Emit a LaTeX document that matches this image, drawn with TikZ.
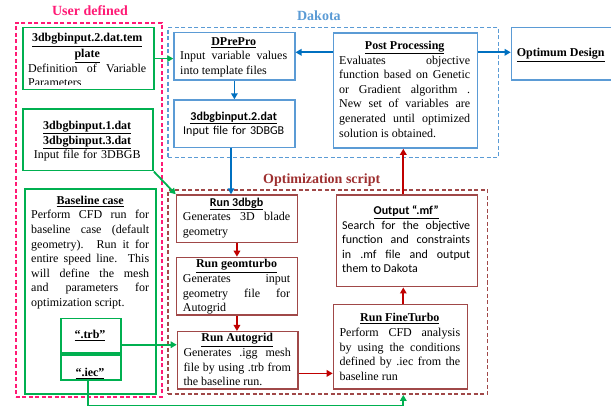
\documentclass[tikz,border=0pt]{standalone}
\usepackage{fontspec}
\setmainfont{Liberation Serif}
\newfontfamily\calfont{Carlito}
\usetikzlibrary{arrows.meta}
\definecolor{udc}{HTML}{FF1A75}
\definecolor{bluebox}{HTML}{5B9BD5}
\definecolor{bluearr}{HTML}{0070C0}
\definecolor{grn}{HTML}{00B050}
\definecolor{brn}{HTML}{A04848}
\definecolor{brnlbl}{HTML}{9E3030}
\definecolor{redarr}{HTML}{C00000}
\tolerance=9999 \hbadness=10000
\newcommand\tmfont{\fontsize{12}{14.6}\selectfont}
\newcommand\ttl[1]{\strut\hspace*{\fill}\textbf{\underline{#1}}\hspace*{\fill}\linebreak}
\begin{document}
\begin{tikzpicture}[x=1pt,y=-1pt,
  cont/.style={draw, line width=1.6pt, dash pattern=on 4pt off 2.5pt, inner sep=0pt, anchor=north west},
  bx/.style={draw, fill=white, line width=1.5pt, inner sep=0pt, anchor=north west},
  gbox/.style={bx, draw=grn},
  bbox/.style={bx, draw=bluebox},
  rbox/.style={bx, draw=brn},
  arrbase/.style={line width=1.8pt, -{Triangle[length=6pt,width=6.5pt]}},
  garr/.style={arrbase, draw=grn},
  barr/.style={arrbase, draw=bluearr},
  rarr/.style={arrbase, draw=redarr},
  txt/.style={inner sep=0pt, anchor=north west, align=justify, font=\tmfont},
  ctxt/.style={inner sep=0pt, anchor=north, align=center, font=\tmfont},
  lbl/.style={inner sep=0pt, anchor=base, font=\fontsize{14}{16}\selectfont\bfseries}
]
\useasboundingbox (0,0) rectangle (611,406);
\clip (0,0) rectangle (611,406);

% containers
\node[cont, draw=udc, minimum width=146pt, minimum height=374pt] (ud) at (15,22) {};
\node[cont, draw=bluebox, minimum width=330.4pt, minimum height=130pt] (dk) at (167.3,26.7) {};
\node[cont, draw=brn, minimum width=319.4pt, minimum height=204.3pt] (osc) at (167.3,189) {};

\node[lbl, text=udc] (lud) at (90,16) {User defined};
\node[lbl, text=bluebox] (ldk) at (318.9,21) {Dakota};
\node[lbl, text=brnlbl] (los) at (321.7,183.3) {Optimization script};

% boxes
\node[gbox, minimum width=131pt, minimum height=62.3pt] (tmpl) at (22,26.7) {};
\node[gbox, minimum width=130.3pt, minimum height=61.7pt] (dat13) at (22,108.3) {};
\node[gbox, minimum width=131pt, minimum height=205pt] (basec) at (24.3,188.3) {};
\node[gbox, minimum width=60pt, minimum height=34.6pt] (trb) at (60,317.7) {};
\node[gbox, minimum width=60pt, minimum height=25pt] (iec) at (60,354) {};
\node[bbox, minimum width=120.7pt, minimum height=47.6pt] (dpp) at (173.3,31.7) {};
\node[bbox, minimum width=120.7pt, minimum height=47.4pt] (dat2) at (173.3,99.3) {};
\node[bbox, minimum width=144pt, minimum height=115pt] (post) at (332.7,32.3) {};
\node[bbox, minimum width=110pt, minimum height=52.6pt] (opt) at (510.7,26.7) {};
\node[rbox, minimum width=121pt, minimum height=47.4pt] (run3) at (175.7,194.3) {};
\node[rbox, minimum width=121pt, minimum height=57.6pt] (geom) at (175.7,256.7) {};
\node[rbox, minimum width=120.6pt, minimum height=57.3pt] (autog) at (176.7,331) {};
\node[rbox, minimum width=141pt, minimum height=91.7pt] (out) at (335.7,194.3) {};
\node[rbox, minimum width=134pt, minimum height=84.3pt] (fine) at (332.7,304) {};

% texts
\begin{scope}
\clip (tmpl.north west) rectangle ([yshift=6pt]tmpl.south east);
\node[txt, text width=118pt] (ttmpl) at (28,31.5) {\ttl{3dbgbinput.2.dat.tem}\ttl{plate}Definition of Variable\linebreak Parameters};
\end{scope}
\node[ctxt, text width=128pt] (tdat13) at (87.2,119.1) {\strut\textbf{\underline{3dbgbinput.1.dat}}\\\textbf{\underline{3dbgbinput.3.dat}}\\Input file for 3DBGB};
\node[txt, text width=118pt] (tbase) at (31,193.8) {\ttl{Baseline case}Perform CFD run for\linebreak baseline case (default\linebreak geometry). Run it for\linebreak entire speed line. This\linebreak will define the mesh\linebreak and parameters for\linebreak optimization script.};
\node[ctxt] (ttrb) at (90,328.1) {\strut\textbf{\underline{“.trb”}}};
\node[ctxt] (tiec) at (90,365.8) {\strut\textbf{\underline{“.iec”}}};
\node[txt, text width=107pt] (tdpp) at (180,34.8) {\ttl{DPrePro}Input variable values\linebreak into template files};
\node[ctxt, text width=115pt, font=\tmfont\calfont] (tdat2) at (233.7,109.8) {\strut\textbf{\underline{3dbgbinput.2.dat}}\\Input file for 3DBGB};
\node[txt, text width=131pt] (tpost) at (339,39.1) {\ttl{Post Processing}Evaluates objective\linebreak function based on Genetic\linebreak or Gradient algorithm .\linebreak New set of variables are\linebreak generated until optimized\linebreak solution is obtained.};
\node[inner sep=0pt, anchor=base west, font=\tmfont\bfseries] (topt) at (516.7,56.7) {\underline{Optimum Design}};
\node[txt, text width=107.3pt] (trun3) at (182.7,195.8) {\strut\hspace*{\fill}{\calfont\textbf{\underline{Run 3dbgb}}}\hspace*{\fill}\linebreak Generates 3D blade\linebreak geometry};
\node[txt, text width=107.3pt] (tgeom) at (182.7,257.5) {\ttl{Run geomturbo}Generates input\linebreak geometry file for\linebreak Autogrid};
\node[txt, text width=107.4pt] (tautog) at (183.3,331.5) {\ttl{Run Autogrid}Generates .igg mesh\linebreak file by using .trb from\linebreak the baseline run.};
\node[txt, text width=128pt, font=\tmfont\calfont] (tout) at (342,204.1) {\ttl{Output “.mf”}Search for the objective\linebreak function and constraints\linebreak in .mf file and output\linebreak them to Dakota};
\node[txt, text width=120.7pt] (tfine) at (339.3,311.5) {\ttl{Run FineTurbo}Perform CFD analysis\linebreak by using the conditions\linebreak defined by .iec from the\linebreak baseline run};

% connectors
\draw[garr] (tmpl.east) -- (tmpl.east -| dpp.west);
\draw[barr] (dpp.south) -- (dat2.north);
\coordinate (pl) at ([yshift=-20pt]post.north west);
\draw[barr] (pl) -- (pl -| dpp.east);
\coordinate (pr) at ([yshift=-20pt]post.north east);
\draw[barr] (pr) -- (pr -| opt.west);
\coordinate (dx) at (231,0);
\draw[barr] (dat2.south -| dx) -- (run3.north -| dx);
\draw[garr] (dat13.south east) -- (run3.north west);
\draw[rarr] (run3.south) -- (geom.north);
\draw[rarr] (geom.south) -- (geom.south |- autog.north);
\coordinate (ar) at ([yshift=-13pt]autog.east);
\draw[rarr] (ar) -- (ar -| fine.west);
\coordinate (colx) at (403.3,0);
\draw[rarr] (fine.north -| colx) -- (out.south -| colx);
\draw[rarr] (out.north -| colx) -- (post.south -| colx);
\coordinate (tr) at ([yshift=-9pt]trb.east);
\draw[garr] (tr) -- (tr -| autog.west);
\coordinate (bot) at (0,406.2);
\coordinate (ix) at (87.7,0);
\draw[garr] (iec.south -| ix) |- (colx |- bot) -- (colx |- osc.south);
\end{tikzpicture}
\end{document}
